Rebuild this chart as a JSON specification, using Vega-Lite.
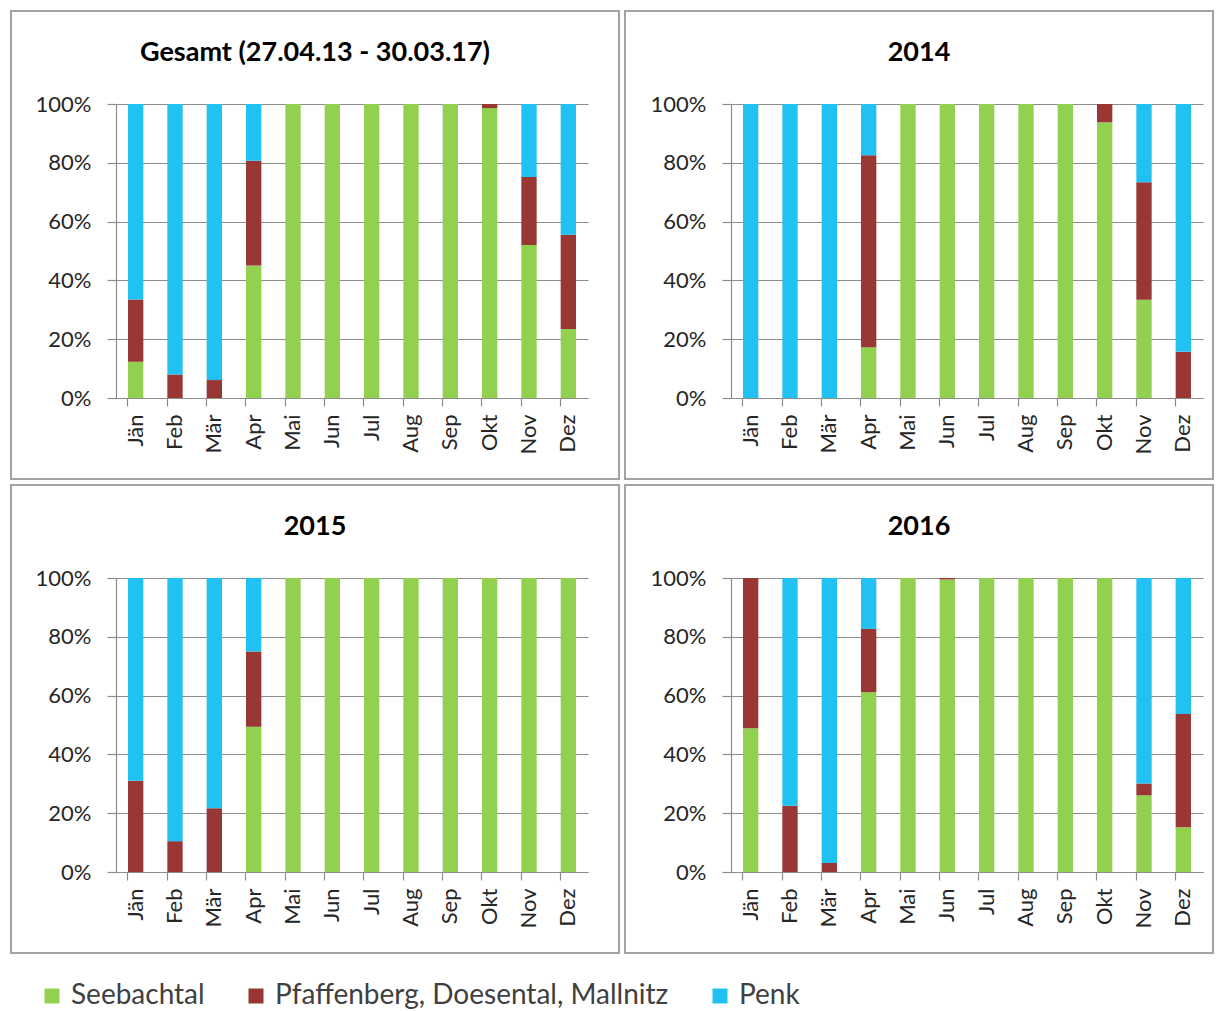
{
  "$schema": "https://vega.github.io/schema/vega-lite/v6.json",
  "background": "white",
  "padding": {"left": 10, "top": 10, "right": 0, "bottom": 0},
  "config": {
    "font": "Lato",
    "view": {"stroke": "#a3a3a3", "strokeWidth": 2},
    "concat": {"spacing": 4},
    "axis": {"labelFont": "Lato", "labelColor": "#262626", "domainColor": "#8c8c8c", "tickColor": "#8c8c8c", "gridColor": "#8c8c8c", "gridOpacity": 1, "domainWidth": 1.2, "tickWidth": 1.2, "gridWidth": 1.2, "title": null},
    "axisX": {"labelAngle": 270, "labelFontSize": 22, "labelPadding": 8, "tickSize": 8, "bandPosition": 0, "labelBaseline": "middle", "labelAlign": "right", "offset": -81},
    "axisY": {"labelFontSize": 22, "tickSize": 9, "labelPadding": 16, "grid": true},
    "title": {"font": "Lato", "fontWeight": "bold", "fontSize": 27, "color": "#000000", "anchor": "middle", "offset": -56}
  },
  "data": {"values": [
    {"p": "G", "m": "Jän", "r": "Seebachtal", "v": 12.3},
    {"p": "G", "m": "Jän", "r": "Pfaffenberg, Doesental, Mallnitz", "v": 21.2},
    {"p": "G", "m": "Jän", "r": "Penk", "v": 66.5},
    {"p": "G", "m": "Feb", "r": "Pfaffenberg, Doesental, Mallnitz", "v": 8},
    {"p": "G", "m": "Feb", "r": "Penk", "v": 92},
    {"p": "G", "m": "Mär", "r": "Pfaffenberg, Doesental, Mallnitz", "v": 6.1},
    {"p": "G", "m": "Mär", "r": "Penk", "v": 93.9},
    {"p": "G", "m": "Apr", "r": "Seebachtal", "v": 45.1},
    {"p": "G", "m": "Apr", "r": "Pfaffenberg, Doesental, Mallnitz", "v": 35.6},
    {"p": "G", "m": "Apr", "r": "Penk", "v": 19.3},
    {"p": "G", "m": "Mai", "r": "Seebachtal", "v": 100},
    {"p": "G", "m": "Jun", "r": "Seebachtal", "v": 100},
    {"p": "G", "m": "Jul", "r": "Seebachtal", "v": 100},
    {"p": "G", "m": "Aug", "r": "Seebachtal", "v": 100},
    {"p": "G", "m": "Sep", "r": "Seebachtal", "v": 100},
    {"p": "G", "m": "Okt", "r": "Seebachtal", "v": 98.6},
    {"p": "G", "m": "Okt", "r": "Pfaffenberg, Doesental, Mallnitz", "v": 1.4},
    {"p": "G", "m": "Nov", "r": "Seebachtal", "v": 52},
    {"p": "G", "m": "Nov", "r": "Pfaffenberg, Doesental, Mallnitz", "v": 23.2},
    {"p": "G", "m": "Nov", "r": "Penk", "v": 24.8},
    {"p": "G", "m": "Dez", "r": "Seebachtal", "v": 23.5},
    {"p": "G", "m": "Dez", "r": "Pfaffenberg, Doesental, Mallnitz", "v": 32},
    {"p": "G", "m": "Dez", "r": "Penk", "v": 44.5},

    {"p": "2014", "m": "Jän", "r": "Penk", "v": 100},
    {"p": "2014", "m": "Feb", "r": "Penk", "v": 100},
    {"p": "2014", "m": "Mär", "r": "Penk", "v": 100},
    {"p": "2014", "m": "Apr", "r": "Seebachtal", "v": 17.3},
    {"p": "2014", "m": "Apr", "r": "Pfaffenberg, Doesental, Mallnitz", "v": 65.3},
    {"p": "2014", "m": "Apr", "r": "Penk", "v": 17.4},
    {"p": "2014", "m": "Mai", "r": "Seebachtal", "v": 100},
    {"p": "2014", "m": "Jun", "r": "Seebachtal", "v": 100},
    {"p": "2014", "m": "Jul", "r": "Seebachtal", "v": 100},
    {"p": "2014", "m": "Aug", "r": "Seebachtal", "v": 100},
    {"p": "2014", "m": "Sep", "r": "Seebachtal", "v": 100},
    {"p": "2014", "m": "Okt", "r": "Seebachtal", "v": 93.75},
    {"p": "2014", "m": "Okt", "r": "Pfaffenberg, Doesental, Mallnitz", "v": 6.25},
    {"p": "2014", "m": "Nov", "r": "Seebachtal", "v": 33.4},
    {"p": "2014", "m": "Nov", "r": "Pfaffenberg, Doesental, Mallnitz", "v": 40},
    {"p": "2014", "m": "Nov", "r": "Penk", "v": 26.6},
    {"p": "2014", "m": "Dez", "r": "Pfaffenberg, Doesental, Mallnitz", "v": 15.7},
    {"p": "2014", "m": "Dez", "r": "Penk", "v": 84.3},

    {"p": "2015", "m": "Jän", "r": "Pfaffenberg, Doesental, Mallnitz", "v": 31},
    {"p": "2015", "m": "Jän", "r": "Penk", "v": 69},
    {"p": "2015", "m": "Feb", "r": "Pfaffenberg, Doesental, Mallnitz", "v": 10.5},
    {"p": "2015", "m": "Feb", "r": "Penk", "v": 89.5},
    {"p": "2015", "m": "Mär", "r": "Pfaffenberg, Doesental, Mallnitz", "v": 21.7},
    {"p": "2015", "m": "Mär", "r": "Penk", "v": 78.3},
    {"p": "2015", "m": "Apr", "r": "Seebachtal", "v": 49.4},
    {"p": "2015", "m": "Apr", "r": "Pfaffenberg, Doesental, Mallnitz", "v": 25.6},
    {"p": "2015", "m": "Apr", "r": "Penk", "v": 25},
    {"p": "2015", "m": "Mai", "r": "Seebachtal", "v": 100},
    {"p": "2015", "m": "Jun", "r": "Seebachtal", "v": 100},
    {"p": "2015", "m": "Jul", "r": "Seebachtal", "v": 100},
    {"p": "2015", "m": "Aug", "r": "Seebachtal", "v": 100},
    {"p": "2015", "m": "Sep", "r": "Seebachtal", "v": 100},
    {"p": "2015", "m": "Okt", "r": "Seebachtal", "v": 100},
    {"p": "2015", "m": "Nov", "r": "Seebachtal", "v": 100},
    {"p": "2015", "m": "Dez", "r": "Seebachtal", "v": 100},

    {"p": "2016", "m": "Jän", "r": "Seebachtal", "v": 48.9},
    {"p": "2016", "m": "Jän", "r": "Pfaffenberg, Doesental, Mallnitz", "v": 51.1},
    {"p": "2016", "m": "Feb", "r": "Pfaffenberg, Doesental, Mallnitz", "v": 22.5},
    {"p": "2016", "m": "Feb", "r": "Penk", "v": 77.5},
    {"p": "2016", "m": "Mär", "r": "Pfaffenberg, Doesental, Mallnitz", "v": 3.1},
    {"p": "2016", "m": "Mär", "r": "Penk", "v": 96.9},
    {"p": "2016", "m": "Apr", "r": "Seebachtal", "v": 61.1},
    {"p": "2016", "m": "Apr", "r": "Pfaffenberg, Doesental, Mallnitz", "v": 21.6},
    {"p": "2016", "m": "Apr", "r": "Penk", "v": 17.3},
    {"p": "2016", "m": "Mai", "r": "Seebachtal", "v": 100},
    {"p": "2016", "m": "Jun", "r": "Seebachtal", "v": 99.5},
    {"p": "2016", "m": "Jun", "r": "Pfaffenberg, Doesental, Mallnitz", "v": 0.5},
    {"p": "2016", "m": "Jul", "r": "Seebachtal", "v": 100},
    {"p": "2016", "m": "Aug", "r": "Seebachtal", "v": 100},
    {"p": "2016", "m": "Sep", "r": "Seebachtal", "v": 100},
    {"p": "2016", "m": "Okt", "r": "Seebachtal", "v": 100},
    {"p": "2016", "m": "Nov", "r": "Seebachtal", "v": 26.1},
    {"p": "2016", "m": "Nov", "r": "Pfaffenberg, Doesental, Mallnitz", "v": 4},
    {"p": "2016", "m": "Nov", "r": "Penk", "v": 69.9},
    {"p": "2016", "m": "Dez", "r": "Seebachtal", "v": 15.2},
    {"p": "2016", "m": "Dez", "r": "Pfaffenberg, Doesental, Mallnitz", "v": 38.55},
    {"p": "2016", "m": "Dez", "r": "Penk", "v": 46.25}
  ]},
  "columns": 2,
  "concat": [
    {
      "width": 608, "height": 468,
      "title": "Gesamt (27.04.13 - 30.03.17)",
      "transform": [{"filter": "datum.p === 'G'"}],
      "mark": {"type": "bar"},
      "encoding": {
        "x": {"field": "m", "type": "nominal", "sort": ["Jän","Feb","Mär","Apr","Mai","Jun","Jul","Aug","Sep","Okt","Nov","Dez"],
              "scale": {"domain": ["Jän","Feb","Mär","Apr","Mai","Jun","Jul","Aug","Sep","Okt","Nov","Dez"], "range": [105, 577], "paddingInner": 0.61, "paddingOuter": 0.305}},
        "y": {"field": "v", "type": "quantitative", "stack": "zero",
              "scale": {"domain": [0, 100], "range": [387, 93], "nice": false},
              "axis": {"offset": -105, "values": [0, 20, 40, 60, 80, 100], "labelExpr": "datum.value + '%'"}},
        "color": {"field": "r", "type": "nominal", "sort": ["Seebachtal", "Pfaffenberg, Doesental, Mallnitz", "Penk"],
                  "scale": {"domain": ["Seebachtal", "Pfaffenberg, Doesental, Mallnitz", "Penk"], "range": ["#92D050", "#993735", "#22C1F3"]},
                  "legend": {"orient": "none", "legendX": 27, "legendY": 971, "direction": "horizontal", "title": null, "symbolType": "square", "symbolSize": 225, "symbolStrokeWidth": 0, "labelFontSize": 28, "labelFont": "Lato", "labelColor": "#404040", "columnPadding": 37, "labelOffset": 5, "labelLimit": 600}}
      }
    },
    {
      "width": 588, "height": 468,
      "title": "2014",
      "transform": [{"filter": "datum.p === '2014'"}],
      "mark": {"type": "bar"},
      "encoding": {
        "x": {"field": "m", "type": "nominal", "sort": ["Jän","Feb","Mär","Apr","Mai","Jun","Jul","Aug","Sep","Okt","Nov","Dez"],
              "scale": {"domain": ["Jän","Feb","Mär","Apr","Mai","Jun","Jul","Aug","Sep","Okt","Nov","Dez"], "range": [106, 578], "paddingInner": 0.61, "paddingOuter": 0.305}},
        "y": {"field": "v", "type": "quantitative", "stack": "zero",
              "scale": {"domain": [0, 100], "range": [387, 93], "nice": false},
              "axis": {"offset": -106, "values": [0, 20, 40, 60, 80, 100], "labelExpr": "datum.value + '%'"}},
        "color": {"field": "r", "type": "nominal", "sort": ["Seebachtal", "Pfaffenberg, Doesental, Mallnitz", "Penk"],
                  "scale": {"domain": ["Seebachtal", "Pfaffenberg, Doesental, Mallnitz", "Penk"], "range": ["#92D050", "#993735", "#22C1F3"]},
                  "legend": null}
      }
    },
    {
      "width": 608, "height": 468,
      "title": "2015",
      "transform": [{"filter": "datum.p === '2015'"}],
      "mark": {"type": "bar"},
      "encoding": {
        "x": {"field": "m", "type": "nominal", "sort": ["Jän","Feb","Mär","Apr","Mai","Jun","Jul","Aug","Sep","Okt","Nov","Dez"],
              "scale": {"domain": ["Jän","Feb","Mär","Apr","Mai","Jun","Jul","Aug","Sep","Okt","Nov","Dez"], "range": [105, 577], "paddingInner": 0.61, "paddingOuter": 0.305}},
        "y": {"field": "v", "type": "quantitative", "stack": "zero",
              "scale": {"domain": [0, 100], "range": [387, 93], "nice": false},
              "axis": {"offset": -105, "values": [0, 20, 40, 60, 80, 100], "labelExpr": "datum.value + '%'"}},
        "color": {"field": "r", "type": "nominal", "sort": ["Seebachtal", "Pfaffenberg, Doesental, Mallnitz", "Penk"],
                  "scale": {"domain": ["Seebachtal", "Pfaffenberg, Doesental, Mallnitz", "Penk"], "range": ["#92D050", "#993735", "#22C1F3"]},
                  "legend": null}
      }
    },
    {
      "width": 588, "height": 468,
      "title": "2016",
      "transform": [{"filter": "datum.p === '2016'"}],
      "mark": {"type": "bar"},
      "encoding": {
        "x": {"field": "m", "type": "nominal", "sort": ["Jän","Feb","Mär","Apr","Mai","Jun","Jul","Aug","Sep","Okt","Nov","Dez"],
              "scale": {"domain": ["Jän","Feb","Mär","Apr","Mai","Jun","Jul","Aug","Sep","Okt","Nov","Dez"], "range": [106, 578], "paddingInner": 0.61, "paddingOuter": 0.305}},
        "y": {"field": "v", "type": "quantitative", "stack": "zero",
              "scale": {"domain": [0, 100], "range": [387, 93], "nice": false},
              "axis": {"offset": -106, "values": [0, 20, 40, 60, 80, 100], "labelExpr": "datum.value + '%'"}},
        "color": {"field": "r", "type": "nominal", "sort": ["Seebachtal", "Pfaffenberg, Doesental, Mallnitz", "Penk"],
                  "scale": {"domain": ["Seebachtal", "Pfaffenberg, Doesental, Mallnitz", "Penk"], "range": ["#92D050", "#993735", "#22C1F3"]},
                  "legend": null}
      }
    }
  ],
  "resolve": {"scale": {"x": "independent", "y": "independent"}}
}
